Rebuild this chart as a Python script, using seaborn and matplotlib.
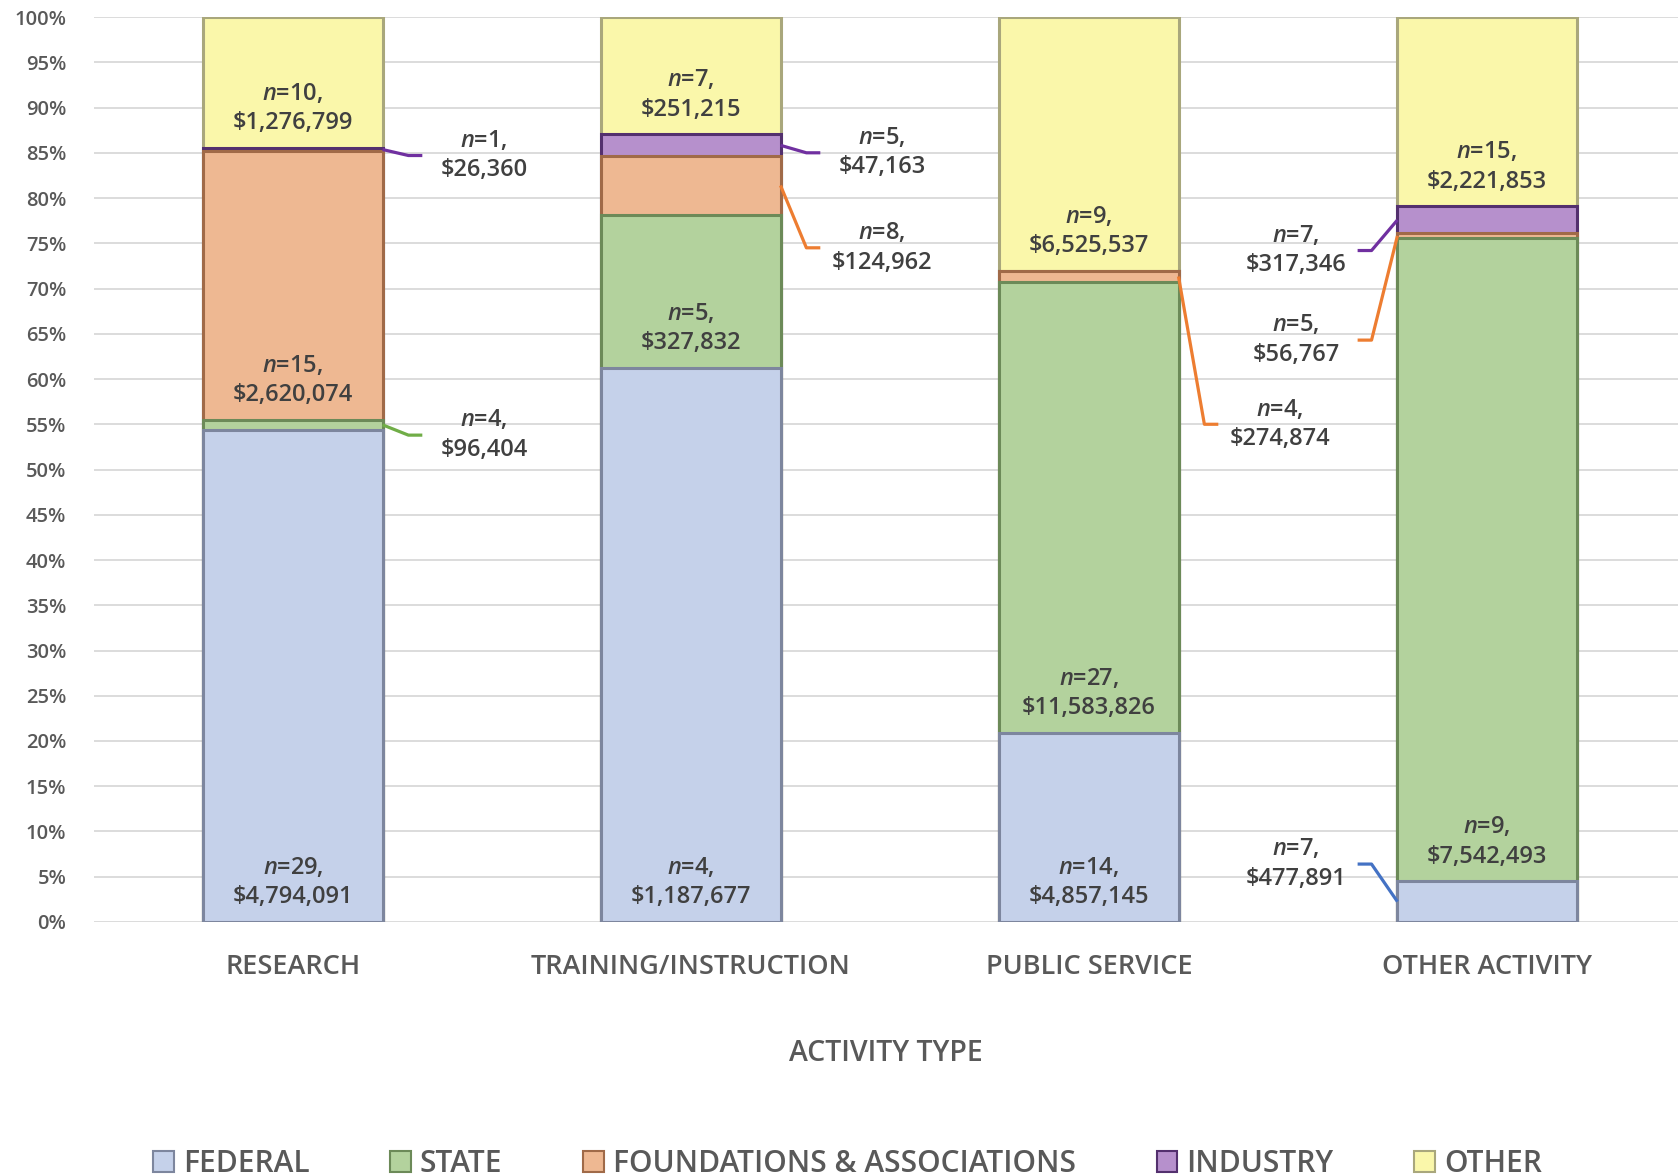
import matplotlib
matplotlib.use("Agg")
import matplotlib.pyplot as plt
import numpy as np
import seaborn as sns
from matplotlib.patches import Patch
from matplotlib.ticker import MultipleLocator, PercentFormatter

# data
categories = ["RESEARCH", "TRAINING/INSTRUCTION", "PUBLIC SERVICE", "OTHER ACTIVITY"]
sources = ["FEDERAL", "STATE", "FOUNDATIONS & ASSOCIATIONS", "INDUSTRY", "OTHER"]

federal_usd = [4794091, 1187677, 4857145, 477891]
federal_n = [29, 4, 14, 7]
state_usd = [96404, 327832, 11583826, 7542493]
state_n = [4, 5, 27, 9]
found_usd = [2620074, 124962, 274874, 56767]
found_n = [15, 8, 4, 5]
industry_usd = [26360, 47163, 0, 317346]
industry_n = [1, 5, 0, 7]
other_usd = [1276799, 251215, 6525537, 2221853]
other_n = [10, 7, 9, 15]

# styles
fills = ["#C5D1EA", "#B3D29D", "#EEB892", "#B690CC", "#FAF7AA"]
edges = ["#7D869E", "#6C8A58", "#A06A48", "#53306E", "#A9A77C"]
leader_colors = ["#4472C4", "#70AD47", "#ED7D31", "#7030A0", "#FFC000"]

# callouts for thin segments: (category, source, label y in %, side)
callouts = [
    (0, 3, 84.7, 1), (0, 1, 53.8, 1),
    (1, 3, 85.0, 1), (1, 2, 74.5, 1),
    (2, 2, 55.0, 1),
    (3, 3, 74.2, -1), (3, 2, 64.3, -1), (3, 0, 6.4, -1),
]

sns.set_theme(style="white")
plt.rcParams["font.family"] = ["Open Sans", "DejaVu Sans"]
plt.rcParams["font.weight"] = "semibold"
plt.rcParams["mathtext.fontset"] = "custom"
plt.rcParams["mathtext.rm"] = "Open Sans:semibold"
plt.rcParams["mathtext.it"] = "Open Sans:italic"

usd = np.array([federal_usd, state_usd, found_usd, industry_usd, other_usd], dtype=float)
counts = np.array([federal_n, state_n, found_n, industry_n, other_n])
share = usd / usd.sum(axis=0) * 100
top = share.cumsum(axis=0)
base = top - share

fig = plt.figure(figsize=(16.78, 11.76), dpi=100)
ax = fig.add_axes([0.056, 0.216, 0.944, 0.7695])

# stacked bars: draw cumulative totals from the top series down
for i in reversed(range(len(sources))):
    sns.barplot(x=categories, y=top[i], color=fills[i], edgecolor=edges[i],
                linewidth=2.2, width=0.45, saturation=1, ax=ax, zorder=3)

ax.set_ylim(0, 100)
ax.set_xlim(-0.5, 3.48)
ax.yaxis.set_major_locator(MultipleLocator(5))
ax.yaxis.set_major_formatter(PercentFormatter(decimals=0))
ax.yaxis.grid(True, color="#D9D9D9", linewidth=1.3)
ax.set_axisbelow(True)
for s in ax.spines.values():
    s.set_visible(False)
ax.tick_params(axis="y", length=0, pad=20, labelsize=14.5, labelcolor="#595959")
ax.tick_params(axis="x", length=0, pad=22, labelsize=19.5, labelcolor="#595959")
ax.set_xlabel("ACTIVITY TYPE", fontsize=20.5, color="#595959", labelpad=42,
              fontweight="semibold")
ax.set_ylabel("")

def label_text(n, v):
    return r"$\it{n}$=%d," % n + "\n" + "${:,.0f}".format(v)

callout_keys = {(c, s): (ly, side) for c, s, ly, side in callouts}

for i in range(len(sources)):
    for j in range(len(categories)):
        if counts[i, j] == 0:
            continue
        txt = label_text(counts[i, j], usd[i, j])
        if (j, i) in callout_keys:
            ly, side = callout_keys[(j, i)]
            mid = (base[i, j] + top[i, j]) / 2
            ax.plot([j + side * 0.225, j + side * 0.29, j + side * 0.325],
                    [mid, ly, ly], color=leader_colors[i], lw=2.3,
                    solid_capstyle="butt", zorder=4, clip_on=False)
            ax.text(j + side * 0.48, ly, txt, ha="center", va="center",
                    fontsize=17, color="#404040", linespacing=1.3, zorder=5)
        else:
            ax.text(j, base[i, j] + 1.4, txt, ha="center", va="bottom",
                    fontsize=17, color="#404040", linespacing=1.3, zorder=5)

handles = [Patch(facecolor=fills[i], edgecolor=edges[i], linewidth=1.5) for i in range(len(sources))]
fig.legend(handles, sources, loc="center", bbox_to_anchor=(0.505, 1 - 1164 / 1176),
           ncol=5, frameon=False, fontsize=21.5, handlelength=0.7, handleheight=0.7,
           columnspacing=2.7, handletextpad=0.3, labelcolor="#595959")

fig.savefig("out.png", dpi=100)
